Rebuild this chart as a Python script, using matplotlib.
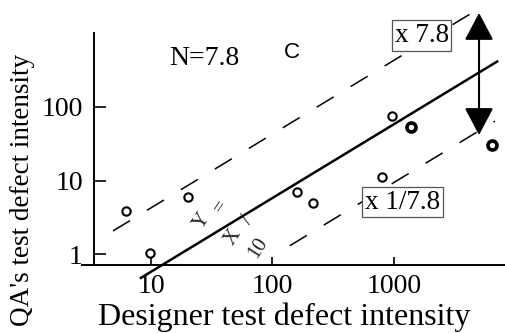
import matplotlib
matplotlib.use("Agg")
import matplotlib.pyplot as plt
import numpy as np
from matplotlib.patches import FancyArrowPatch

# ---- data ----
designer = [6.2, 9.8, 20.2, 159, 215, 796, 963, 1380, 6410]
qa = [3.86, 1.04, 5.97, 6.98, 4.96, 11.2, 74.8, 53, 30.3]
bold = [False, False, False, False, False, False, False, True, True]

solid_k = 0.058
solid_x = [8.1, 7210]
upper_k = 0.426
upper_x = [4.87, 5610]
lower_k = 0.00941
lower_x = [139, 6780]

xticks = [10, 100, 1000]
xticklabels = ["10", "100", "1000"]
yticks = [1, 10, 100]
yticklabels = ["1", "10", "100"]

arrow_x = 5012
arrow_y = [41.4, 1862]

serif = "Liberation Serif"
sans = "Liberation Sans"

fig = plt.figure(figsize=(5.05, 3.33), dpi=100)
ax = fig.add_axes([0, 0, 1, 1])
ax.set_xscale("log")
ax.set_yscale("log")
ax.set_xlim(0.572, 8200)
ax.set_ylim(0.0859, 2792)
ax.patch.set_alpha(0)

for s in ["top", "right"]:
    ax.spines[s].set_visible(False)
ax.spines["bottom"].set_position(("data", 0.727))
ax.spines["bottom"].set_bounds(2.70, 8200)
ax.spines["left"].set_position(("data", 3.40))
ax.spines["left"].set_bounds(0.727, 997)
for s in ["bottom", "left"]:
    ax.spines[s].set_linewidth(1.4)

ax.set_xticks(xticks)
ax.set_xticklabels(xticklabels, fontfamily=serif, fontsize=20)
ax.set_yticks(yticks)
ax.set_yticklabels(yticklabels, fontfamily=serif, fontsize=20)
ax.minorticks_off()
ax.tick_params(axis="x", direction="in", length=5.8, width=1.2, pad=7)
ax.tick_params(axis="y", direction="in", length=8.6, width=1.2, pad=8)

# lines
sx = np.array(solid_x, dtype=float)
ax.plot(sx, solid_k * sx, color="black", lw=1.8, solid_capstyle="butt")
ux = np.array(upper_x, dtype=float)
ax.plot(ux, upper_k * ux, color="black", lw=1.1, ls=(0, (13, 13)))
lx = np.array(lower_x, dtype=float)
ax.plot(lx, lower_k * lx, color="black", lw=1.1, ls=(0, (13, 13)))

# points
for x, y, b in zip(designer, qa, bold):
    ax.plot([x], [y], marker="o", ms=6.5 if b else 6, mfc="white", mec="black",
            mew=2.6 if b else 1.5, ls="none", zorder=5)

# arrow
arr = FancyArrowPatch((arrow_x, arrow_y[0]), (arrow_x, arrow_y[1]),
                      arrowstyle="<|-|>,head_length=0.85,head_width=0.45",
                      mutation_scale=20, color="black", lw=1.5,
                      shrinkA=0, shrinkB=0, zorder=6)
ax.add_patch(arr)

# texts
T = ax.transAxes
ax.text(0.404, 0.823, "N=7.8", transform=T, fontfamily=serif, fontsize=20,
        ha="center", va="center")
ax.text(0.578, 0.841, "C", transform=T, fontfamily=sans, fontsize=16,
        ha="center", va="center")
ax.text(0.835, 0.893, "x 7.8", transform=T, fontfamily=serif, fontsize=19.5,
        ha="center", va="center", zorder=7,
        bbox=dict(boxstyle="square,pad=0.1", fc="white", ec="#555555", lw=0.9))
ax.text(0.797, 0.393, "x 1/7.8", transform=T, fontfamily=serif, fontsize=19.5,
        ha="center", va="center", zorder=7,
        bbox=dict(boxstyle="square,pad=0.1", fc="white", ec="#555555", lw=0.9))

rot = 57
for s, px, py in [("Y", 0.400, 0.336), ("=", 0.4376, 0.381), ("X", 0.4614, 0.288),
                  ("/", 0.491, 0.339), ("10", 0.511, 0.255)]:
    ax.text(px, py, s, transform=T, fontfamily=serif, fontsize=15, rotation=rot,
            ha="center", va="center", color="#222222", rotation_mode="anchor")

ax.text(0.563, 0.048, "Designer test defect intensity", transform=T,
        fontfamily=serif, fontsize=23, ha="center", va="center")
ax.text(0.045, 0.43, "QA's test defect intensity", transform=T,
        fontfamily=serif, fontsize=19.5, ha="center", va="center", rotation=90)

fig.savefig("out.png", dpi=100)
